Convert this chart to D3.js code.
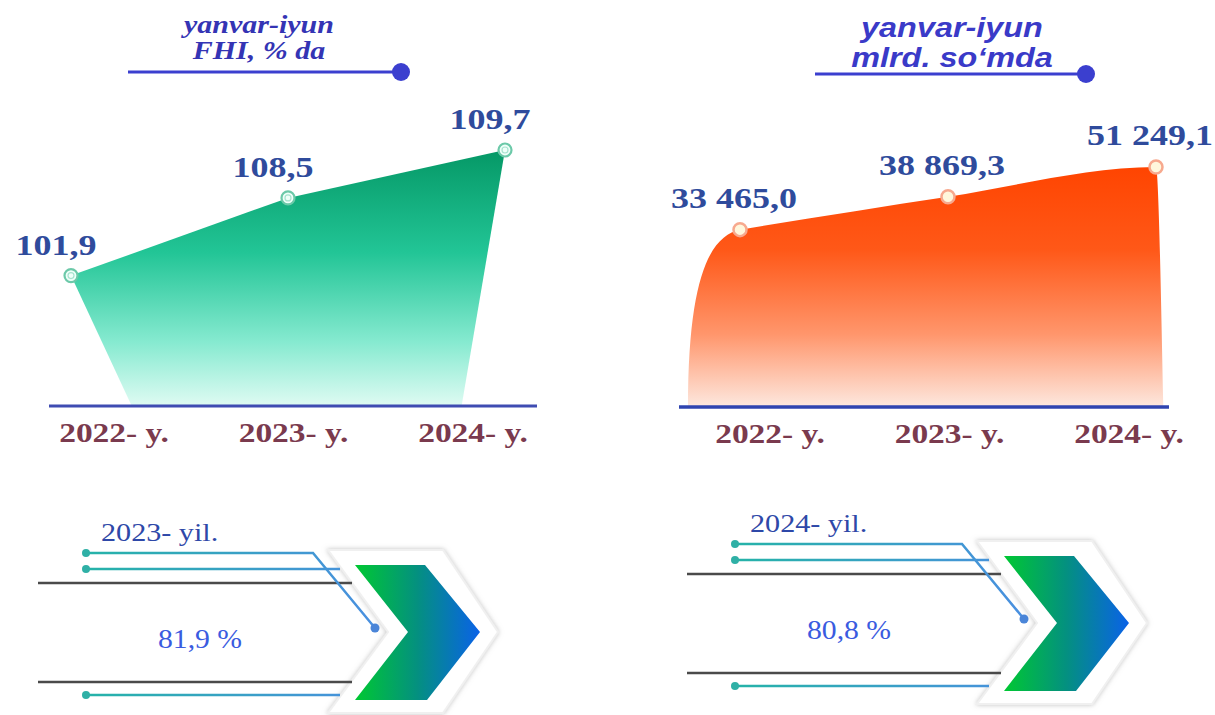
<!DOCTYPE html>
<html><head><meta charset="utf-8">
<script src="https://cdn.jsdelivr.net/npm/d3@7"></script>
<style>body{margin:0;background:#fff} svg{display:block;background:#fff}</style>
</head><body>
<svg id="c" width="1215" height="715"></svg>
<script>
// ---------- data ----------
const years = ["2022- y.", "2023- y.", "2024- y."];
const fhiValues = [101.9, 108.5, 109.7];
const volumeValues = [33465.0, 38869.3, 51249.1];
const shareYears = ["2023- yil.", "2024- yil."];
const shareValues = [81.9, 80.8];
const titleFhi = ["yanvar-iyun", "FHI, % da"];
const titleVol = ["yanvar-iyun", "mlrd. so\u2018mda"];

const loc = d3.formatLocale({decimal: ",", thousands: " ", grouping: [3], currency: ["", ""]});
const fmtFhi = loc.format(".1f");
const fmtVol = loc.format(",.1f");

const svg = d3.select("#c");
const defs = svg.append("defs");

function linGrad(id, x1, y1, x2, y2, stops) {
  const g = defs.append("linearGradient").attr("id", id).attr("gradientUnits", "userSpaceOnUse")
    .attr("x1", x1).attr("y1", y1).attr("x2", x2).attr("y2", y2);
  stops.forEach(s => g.append("stop").attr("offset", s[0]).attr("stop-color", s[1]));
}
linGrad("gGreen", 0, 150, 0, 406, [[0, "#059866"], [0.4, "#22c596"], [0.75, "#86ead0"], [1, "#dffbf3"]]);
linGrad("gOrange", 0, 165, 0, 407, [[0, "#ff4400"], [0.35, "#ff5818"], [0.7, "#ff966c"], [1, "#fde8df"]]);
linGrad("gChev", 355, 0, 480, 0, [[0, "#00c832"], [0.5, "#049080"], [1, "#0a62e8"]]);
linGrad("gWire", 86, 0, 375, 0, [[0, "#25b3a8"], [1, "#4a8fe0"]]);
const sh = defs.append("filter").attr("id", "shadow").attr("x", "-20%").attr("y", "-20%").attr("width", "140%").attr("height", "140%");
sh.append("feDropShadow").attr("dx", 0).attr("dy", 0).attr("stdDeviation", 2.5).attr("flood-color", "#9a9a9a").attr("flood-opacity", 0.6);

function sText(parent, x, y, txt, o) {
  const g = parent.append("g").attr("transform", `translate(${x},${y}) scale(${o.sx || 1},1)`);
  return g.append("text").attr("x", 0).attr("y", 0).attr("text-anchor", o.anchor || "middle")
    .attr("font-family", o.family || "'Liberation Serif','Times New Roman',serif")
    .attr("font-size", o.size).attr("font-weight", o.weight || "bold")
    .attr("font-style", o.style || "normal").attr("fill", o.fill).text(txt);
}

// ---------- titles ----------
function title(cx, lines, lineX0, lineX1, lineY, o) {
  const g = svg.append("g");
  sText(g, cx, o.y0, lines[0], o);
  sText(g, cx, o.y1, lines[1], o);
  g.append("line").attr("x1", lineX0).attr("x2", lineX1).attr("y1", lineY).attr("y2", lineY)
    .attr("stroke", "#3b3fcf").attr("stroke-width", 3);
  g.append("circle").attr("cx", lineX1).attr("cy", lineY).attr("r", 9).attr("fill", "#3b3fcf");
}
title(259, titleFhi, 128, 401, 72, {y0: 33, y1: 59, size: 25, sx: 1.2, style: "italic", fill: "#3434b4"});
title(952, titleVol, 815, 1086, 74, {y0: 37, y1: 67, size: 27, sx: 1.2, style: "italic", fill: "#3a3ac8",
  family: "'Liberation Sans',Arial,sans-serif"});

// ---------- left chart (FHI) ----------
const baseL = 406;
const xL = d3.scaleLinear().domain([0, 2]).range([71, 505]);
const yL = d3.scaleLinear().domain([100, 109, 110]).range([298, 192, 132]);
const xLabL = d3.scalePoint().domain(years).range([114, 473]);

const areaL = [{i: 0.28, v: null}].concat(fhiValues.map((v, i) => ({i, v}))).concat([{i: 1.8, v: null}]);
svg.append("path")
  .attr("d", d3.line().x(d => xL(d.i)).y(d => d.v == null ? baseL : yL(d.v))(areaL) + "Z")
  .attr("fill", "url(#gGreen)");
svg.append("line").attr("x1", 49).attr("x2", 537).attr("y1", baseL).attr("y2", baseL)
  .attr("stroke", "#3f4cb2").attr("stroke-width", 3);
fhiValues.forEach((v, i) => {
  svg.append("circle").attr("cx", xL(i)).attr("cy", yL(v)).attr("r", 6.5)
    .attr("fill", "#effff9").attr("stroke", "#6cc9a9").attr("stroke-width", 2.2);
  svg.append("circle").attr("cx", xL(i)).attr("cy", yL(v)).attr("r", 3)
    .attr("fill", "none").attr("stroke", "#a8e3cf").attr("stroke-width", 1.2);
  sText(svg, xL(i) - 15, yL(v) - 21, fmtFhi(v), {size: 30, sx: 1.2, fill: "#2f4b9c"});
});
years.forEach(y => sText(svg, xLabL(y), 442, y, {size: 27, sx: 1.24, fill: "#7a3a4e"}));

// ---------- right chart (volume) ----------
const baseR = 407;
const xR = d3.scaleLinear().domain([0, 2]).range([740, 1156]);
const yR = d3.scaleLinear().domain([30000, 35000, 55000]).range([283, 206, 158]);
const xLabR = d3.scalePoint().domain(years).range([770, 1129]);

const ptsR = volumeValues.map((v, i) => ({i, v})).concat([{i: 2.035, v: null}]);
const topR = d3.line().curve(d3.curveMonotoneX).x(d => xR(d.i)).y(d => d.v == null ? baseR : yR(d.v))(ptsR);
// steep rounded left flank rising from the baseline to the first point
const fx = xR(-0.25), x0 = xR(0), y0 = yR(volumeValues[0]);
const flank = d3.path();
flank.moveTo(fx, baseR);
flank.bezierCurveTo(fx, y0 + (baseR - y0) * 0.25, x0 - (x0 - fx) * 0.55, y0 + 6, x0, y0);
svg.append("path")
  .attr("d", flank.toString() + "L" + topR.slice(1) + "Z")
  .attr("fill", "url(#gOrange)");
svg.append("line").attr("x1", 679).attr("x2", 1169).attr("y1", baseR).attr("y2", baseR)
  .attr("stroke", "#2f44b0").attr("stroke-width", 3.5);
volumeValues.forEach((v, i) => {
  svg.append("circle").attr("cx", xR(i)).attr("cy", yR(v)).attr("r", 6.5)
    .attr("fill", "#fff7dc").attr("stroke", "#f7a98e").attr("stroke-width", 2.5);
  sText(svg, xR(i) - 6, yR(v) - 22, fmtVol(v), {size: 30, sx: 1.2, fill: "#2f4b9c"});
});
years.forEach(y => sText(svg, xLabR(y), 443, y, {size: 27, sx: 1.24, fill: "#7a3a4e"}));

// ---------- bottom panels ----------
const panelOffsets = [[0, 0], [649, -9]];
shareValues.forEach((v, k) => {
  const [ox, oy] = panelOffsets[k];
  const g = svg.append("g").attr("transform", `translate(${ox},${oy})`);
  // outer white chevron
  g.append("path").attr("d", "M328,550 L443,550 L498,632 L443,713 L328,713 L388,632 Z")
    .attr("fill", "#fff").attr("stroke", "#f0f0f0").attr("stroke-width", 2).attr("filter", "url(#shadow)");
  // dark lines
  [583, 682].forEach(y => g.append("line").attr("x1", 38).attr("x2", 352).attr("y1", y).attr("y2", y)
    .attr("stroke", "#4a4a4a").attr("stroke-width", 2.5));
  // wires
  g.append("path").attr("d", "M86,553 H313 L375,628").attr("fill", "none").attr("stroke", "url(#gWire)").attr("stroke-width", 2.5);
  g.append("line").attr("x1", 86).attr("x2", 340).attr("y1", 569).attr("y2", 569).attr("stroke", "url(#gWire)").attr("stroke-width", 2.5);
  g.append("line").attr("x1", 86).attr("x2", 340).attr("y1", 695).attr("y2", 695).attr("stroke", "url(#gWire)").attr("stroke-width", 2.5);
  [553, 569, 695].forEach(y => g.append("circle").attr("cx", 86).attr("cy", y).attr("r", 4).attr("fill", "#2fb0a6"));
  g.append("circle").attr("cx", 375).attr("cy", 628).attr("r", 4.5).attr("fill", "#4a85d8");
  // inner gradient chevron
  g.append("path").attr("d", "M355,565 L425,565 L480,632 L427,700 L355,700 L408,632 Z")
    .attr("fill", "url(#gChev)");
  // texts
  sText(g, 101, 541, shareYears[k], {size: 26, sx: 1.16, weight: "normal", anchor: "start", fill: "#2e48a8"});
  sText(g, 200, 648, loc.format(".1f")(v) + " %", {size: 27, sx: 1.1, weight: "normal", fill: "#3a5be0"});
});
</script>
</body></html>
